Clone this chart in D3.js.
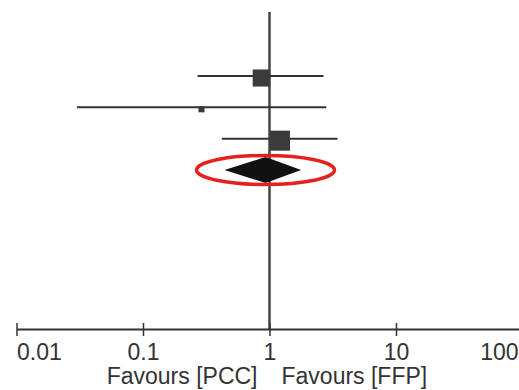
<!DOCTYPE html>
<html>
<head>
<meta charset="utf-8">
<script src="https://cdn.jsdelivr.net/npm/d3@7"></script>
<style>
  body { margin: 0; background: #fff; }
  svg { display: block; }
  text { font-family: "Liberation Sans", Arial, sans-serif; fill: #333; }
</style>
</head>
<body>
<div id="chart"></div>
<script>
// ---------------- data ----------------
const studies = ["Study 1", "Study 2", "Study 3"];
const estimates = [0.86, 0.29, 1.21];
const lowerCI = [0.27, 0.030, 0.42];
const upperCI = [2.67, 2.81, 3.45];
const weights = [40, 5, 55];

const pooled = { est: 0.93, lo: 0.44, hi: 1.78 };

const tickValues = [0.01, 0.1, 1, 10, 100];
const tickLabels = ["0.01", "0.1", "1", "10", "100"];
const favourLeft = "Favours [PCC]";
const favourRight = "Favours [FFP]";

// ---------------- svg ----------------
const width = 519, height = 390;
const axisY = 329;

const svg = d3.select("#chart")
  .append("svg")
  .attr("width", width)
  .attr("height", height);

const x = d3.scaleLog().domain([0.01, 100]).range([16.5, 522.5]);
const y = d3.scalePoint().domain(studies.concat(["Pooled"])).range([76, 170]);
const size = d3.scaleSqrt().domain([0, 100]).range([0, 27]);

const rows = studies.map((s, i) => ({
  name: s, est: estimates[i], lo: lowerCI[i], hi: upperCI[i], w: weights[i]
}));

// line of no effect
svg.append("line")
  .attr("x1", x(1)).attr("x2", x(1))
  .attr("y1", 12).attr("y2", axisY)
  .attr("stroke", "#444")
  .attr("stroke-width", 2.5);

// confidence intervals
svg.selectAll(".ci")
  .data(rows)
  .enter()
  .append("line")
  .attr("class", "ci")
  .attr("x1", d => x(d.lo))
  .attr("x2", d => x(d.hi))
  .attr("y1", d => y(d.name))
  .attr("y2", d => y(d.name))
  .attr("stroke", "#333")
  .attr("stroke-width", 2);

// study squares
svg.selectAll(".box")
  .data(rows)
  .enter()
  .append("rect")
  .attr("class", "box")
  .attr("x", d => x(d.est) - size(d.w) / 2)
  .attr("y", d => y(d.name) + 2 - size(d.w) / 2)
  .attr("width", d => size(d.w))
  .attr("height", d => size(d.w))
  .attr("fill", "#3b3b3b");

// pooled diamond
const py = y("Pooled");
svg.append("path")
  .attr("d", d3.line()([
    [x(pooled.lo), py],
    [x(pooled.est), py - 13],
    [x(pooled.hi), py],
    [x(pooled.est), py + 13]
  ]) + "Z")
  .attr("fill", "#111");

// red highlight round the pooled result
svg.append("ellipse")
  .attr("cx", x(pooled.est))
  .attr("cy", py)
  .attr("rx", 69)
  .attr("ry", 14.5)
  .attr("fill", "none")
  .attr("stroke", "#e3221f")
  .attr("stroke-width", 3.5);

// axis
const xAxis = d3.axisBottom(x)
  .tickValues(tickValues)
  .tickFormat((d, i) => tickLabels[i])
  .tickSizeOuter(0);

const gx = svg.append("g")
  .attr("transform", "translate(0," + axisY + ")")
  .call(xAxis);

gx.select(".domain").attr("stroke", "#333").attr("stroke-width", 2);
gx.selectAll(".tick line")
  .attr("y1", -6).attr("y2", 7)
  .attr("stroke", "#333").attr("stroke-width", 1.5);
gx.selectAll(".tick text")
  .attr("y", 31)
  .attr("dy", 0)
  .attr("font-size", 23)
  .attr("fill", "#333")
  .attr("text-anchor", (d, i) => i === 0 ? "start" : (i === tickValues.length - 1 ? "end" : "middle"))
  .attr("dx", (d, i) => i === tickValues.length - 1 ? -4.5 : 0);

// favours labels
svg.append("text")
  .attr("x", x(1) - 12)
  .attr("y", 384)
  .attr("text-anchor", "end")
  .attr("font-size", 23)
  .text(favourLeft);

svg.append("text")
  .attr("x", x(1) + 12)
  .attr("y", 384)
  .attr("text-anchor", "start")
  .attr("font-size", 23)
  .text(favourRight);
</script>
</body>
</html>
